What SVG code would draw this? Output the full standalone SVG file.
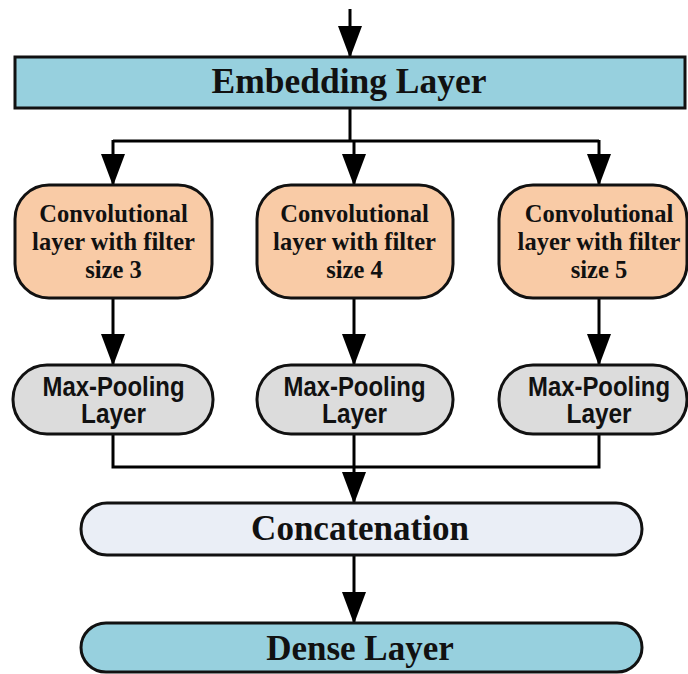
<svg xmlns="http://www.w3.org/2000/svg" width="688" height="674" viewBox="0 0 688 674">
  <defs>
    <marker id="arrow" markerUnits="userSpaceOnUse" markerWidth="32" markerHeight="24" viewBox="0 0 32 24" refX="31" refY="12" orient="auto">
      <path d="M0,0 L32,12 L0,24 Z" fill="#000"/>
    </marker>
    <style>
      .box { stroke: #111; stroke-width: 3; }
      .blue { fill: #97D0DE; }
      .conv { fill: #F9CBA6; }
      .pool { fill: #DCDCDC; }
      .concat { fill: #EAEEF6; }
      .serif { font-family: "Liberation Serif", "Times New Roman", serif; font-weight: bold; fill: #111; text-anchor: middle; }
      .sans { font-family: "Liberation Sans", Arial, sans-serif; font-weight: bold; fill: #111; text-anchor: middle; }
      .big { font-size: 35px; }
      .mid { font-size: 24.5px; }
      .ps { font-size: 27px; }
      .wire { fill: none; stroke: #000; stroke-width: 3; }
      .arr { marker-end: url(#arrow); }
    </style>
  </defs>
  <rect width="688" height="674" fill="#fff"/>

  <!-- connectors -->
  <g id="connectors">
    <line class="wire arr" x1="350" y1="9" x2="350" y2="57"/>
    <polyline class="wire" points="350,108 350,141"/>
    <polyline class="wire" points="113,141 599,141"/>
    <line class="wire arr" x1="113" y1="140" x2="113" y2="185"/>
    <line class="wire arr" x1="354" y1="140" x2="354" y2="185"/>
    <line class="wire arr" x1="599" y1="140" x2="599" y2="185"/>
    <line class="wire arr" x1="113" y1="298" x2="113" y2="365"/>
    <line class="wire arr" x1="354" y1="298" x2="354" y2="365"/>
    <line class="wire arr" x1="599" y1="298" x2="599" y2="365"/>
    <polyline class="wire" points="113,434 113,467 599,467 599,434"/>
    <line class="wire" x1="354" y1="434" x2="354" y2="467"/>
    <line class="wire arr" x1="354" y1="466" x2="354" y2="503"/>
    <line class="wire arr" x1="354" y1="555" x2="354" y2="623"/>
  </g>

  <g id="embedding">
    <rect class="box blue" x="15" y="57" width="670" height="51"/>
    <text class="serif big" x="349" y="93" textLength="275" lengthAdjust="spacingAndGlyphs">Embedding Layer</text>
  </g>

  <g id="conv3">
    <rect class="box conv" x="15" y="185" width="197" height="113" rx="34" ry="34"/>
    <text class="serif mid" x="113.5" y="222">Convolutional</text>
    <text class="serif mid" x="113.5" y="250">layer with filter</text>
    <text class="serif mid" x="113.5" y="278">size 3</text>
  </g>
  <g id="conv4">
    <rect class="box conv" x="257" y="185" width="196" height="113" rx="34" ry="34"/>
    <text class="serif mid" x="354.5" y="222">Convolutional</text>
    <text class="serif mid" x="354.5" y="250">layer with filter</text>
    <text class="serif mid" x="354.5" y="278">size 4</text>
  </g>
  <g id="conv5">
    <rect class="box conv" x="499" y="185" width="188" height="113" rx="34" ry="34"/>
    <text class="serif mid" x="599" y="222">Convolutional</text>
    <text class="serif mid" x="599" y="250">layer with filter</text>
    <text class="serif mid" x="599" y="278">size 5</text>
  </g>

  <g id="pool3">
    <rect class="box pool" x="13" y="365" width="200" height="69" rx="34" ry="34"/>
    <text class="sans ps" x="113.5" y="396" textLength="142" lengthAdjust="spacingAndGlyphs">Max-Pooling</text>
    <text class="sans ps" x="113.5" y="423" textLength="65" lengthAdjust="spacingAndGlyphs">Layer</text>
  </g>
  <g id="pool4">
    <rect class="box pool" x="257" y="365" width="196" height="69" rx="34" ry="34"/>
    <text class="sans ps" x="354.5" y="396" textLength="142" lengthAdjust="spacingAndGlyphs">Max-Pooling</text>
    <text class="sans ps" x="354.5" y="423" textLength="65" lengthAdjust="spacingAndGlyphs">Layer</text>
  </g>
  <g id="pool5">
    <rect class="box pool" x="499" y="365" width="188" height="69" rx="34" ry="34"/>
    <text class="sans ps" x="599" y="396" textLength="142" lengthAdjust="spacingAndGlyphs">Max-Pooling</text>
    <text class="sans ps" x="599" y="423" textLength="65" lengthAdjust="spacingAndGlyphs">Layer</text>
  </g>

  <g id="concatenation">
    <rect class="box concat" x="81" y="503" width="561" height="52" rx="26" ry="26"/>
    <text class="serif big" x="360" y="540">Concatenation</text>
  </g>

  <g id="dense">
    <rect class="box blue" x="81" y="623" width="561" height="49" rx="25" ry="25"/>
    <text class="serif big" x="360" y="660">Dense Layer</text>
  </g>
</svg>
